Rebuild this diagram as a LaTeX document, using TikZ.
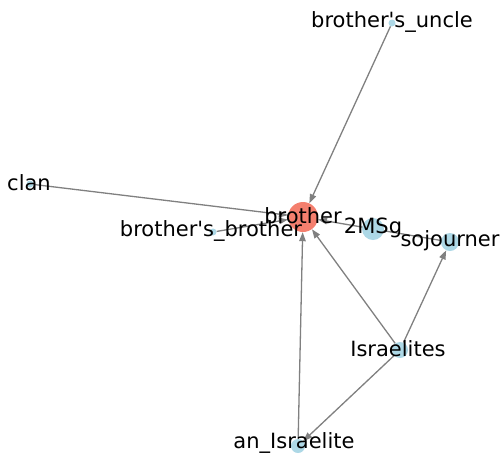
\documentclass[tikz,border=0pt]{standalone}
\usepackage{fontspec}
\setmainfont{DejaVu Sans}
\usetikzlibrary{arrows.meta,backgrounds}
\definecolor{nodeblue}{HTML}{ADD8E6}
\definecolor{nodered}{HTML}{F47F6E}
\definecolor{edgegray}{HTML}{808080}
\tikzset{
  vertex/.style={circle,fill=nodeblue,draw=none,inner sep=0pt,minimum size=#1},
  vertex/.default=7pt,
  lbl/.style={font=\fontsize{21}{23}\selectfont,inner sep=0pt,text=black},
  link/.style={draw=edgegray,line width=1.3pt,-{Triangle[length=9pt,width=6.5pt]}}
}
\newcommand{\apos}{\textquotesingle}
\begin{document}
\begin{tikzpicture}[x=1pt,y=-1pt]
\useasboundingbox (0,0) rectangle (502,456);
% vertices
\node[vertex=30pt,fill=nodered] (brother) at (303,217) {};
\node[vertex] (uncle) at (392,23) {};
\node[vertex] (clan) at (30,184) {};
\node[vertex] (bb) at (213,232) {};
\node[vertex=22pt] (msg) at (373,229) {};
\node[vertex=18pt] (soj) at (450,242) {};
\node[vertex=16pt] (isr) at (400,350) {};
\node[vertex=14pt] (anI) at (298,446) {};
% connectors beneath the vertices
\begin{scope}[on background layer]
\draw[link] (uncle) -- (brother);
\draw[link] (clan) -- (brother);
\draw[link] (bb) -- (brother);
\draw[link] (soj) -- (brother);
\draw[link] (isr) -- (brother);
\draw[link] (isr) -- (soj);
\draw[link] (isr) -- (anI);
\draw[link] (anI) -- (brother);
\end{scope}
% labels on top
\node[lbl] (tbrother) at (303,216) {brother};
\node[lbl] (tuncle) at (392,22) {brother\apos s\_uncle};
\node[lbl] (tclan) at (29,183) {clan};
\node[lbl] (tbb) at (211,231) {brother\apos s\_brother};
\node[lbl] (tmsg) at (373,228) {2MSg};
\node[lbl] (tsoj) at (450,241) {sojourner};
\node[lbl] (tisr) at (398,349) {Israelites};
\node[lbl] (tanI) at (294,443) {an\_Israelite};
\end{tikzpicture}
\end{document}
